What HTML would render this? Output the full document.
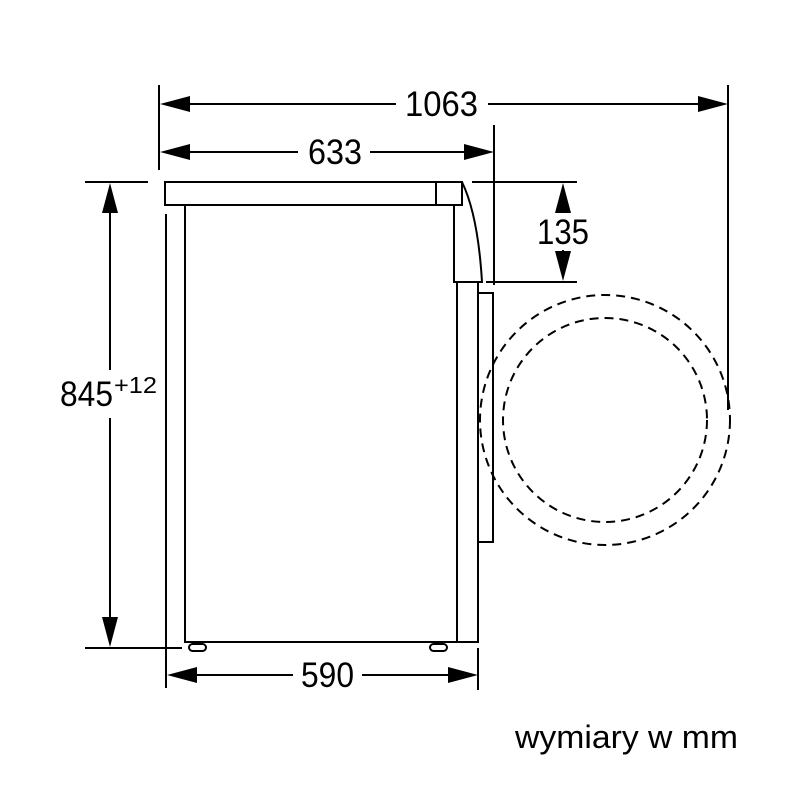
<!DOCTYPE html>
<html><head><style>html,body{margin:0;padding:0;background:#fff}</style></head>
<body>
<svg width="800" height="800" viewBox="0 0 800 800" xmlns="http://www.w3.org/2000/svg" font-family="Liberation Sans, sans-serif">
<g stroke="#000" stroke-width="2" fill="none">
  <line x1="159" y1="85" x2="159" y2="170"/>
  <line x1="728" y1="85" x2="728" y2="410"/>
  <line x1="494" y1="125" x2="494" y2="285"/>
  <line x1="166" y1="214" x2="166" y2="688"/>
  <line x1="478" y1="648" x2="478" y2="690"/>
  <line x1="85" y1="182" x2="148" y2="182"/>
  <line x1="85" y1="648" x2="182" y2="648"/>
  <line x1="472" y1="182" x2="577" y2="182"/>
  <line x1="486" y1="282" x2="577" y2="282"/>
  <line x1="175" y1="104" x2="396" y2="104"/>
  <line x1="488" y1="104" x2="712" y2="104"/>
  <line x1="175" y1="152" x2="298" y2="152"/>
  <line x1="370" y1="152" x2="478" y2="152"/>
  <line x1="182" y1="675" x2="293" y2="675"/>
  <line x1="362" y1="675" x2="464" y2="675"/>
  <line x1="110" y1="198" x2="110" y2="370"/>
  <line x1="110" y1="418" x2="110" y2="632"/>
  <line x1="563" y1="198" x2="563" y2="212"/>
  <line x1="563" y1="250" x2="563" y2="266"/>
  <rect x="165" y="182" width="297" height="23"/>
  <line x1="436" y1="182" x2="436" y2="205"/>
  <path d="M185 205 V642 H478 V282"/>
  <path d="M436 205 H454 V282 H482 Q478 215 462 182"/>
  <line x1="457" y1="282" x2="457" y2="642"/>
  <path d="M479 293 H493 V542 H479"/>
  <rect x="189" y="644" width="17" height="7" rx="3.5"/>
  <rect x="430" y="644" width="17" height="7" rx="3.5"/>
  <circle cx="605" cy="420" r="125" stroke-dasharray="9 6"/>
  <circle cx="605" cy="420" r="102" stroke-dasharray="9 6"/>
</g>
<g fill="#000">
  <polygon points="160,104 190,96 190,112"/>
  <polygon points="728,104 698,96 698,112"/>
  <polygon points="160,152 190,144 190,160"/>
  <polygon points="494,152 464,144 464,160"/>
  <polygon points="167,675 197,667 197,683"/>
  <polygon points="478,675 448,667 448,683"/>
  <polygon points="110,183 102,213 118,213"/>
  <polygon points="110,647 102,617 118,617"/>
  <polygon points="563,183 555,213 571,213"/>
  <polygon points="563,281 555,251 571,251"/>
</g>
<g fill="#000" font-size="35">
  <text x="405" y="116" textLength="73" lengthAdjust="spacingAndGlyphs">1063</text>
  <text x="308" y="164" textLength="54" lengthAdjust="spacingAndGlyphs">633</text>
  <text x="301" y="687" textLength="53" lengthAdjust="spacingAndGlyphs">590</text>
  <text x="537" y="244" textLength="52" lengthAdjust="spacingAndGlyphs">135</text>
  <text x="60" y="406" textLength="53" lengthAdjust="spacingAndGlyphs">845</text>
  <text x="114" y="393" font-size="23" textLength="43" lengthAdjust="spacingAndGlyphs">+12</text>
  <text x="515" y="748" font-size="32" textLength="223" lengthAdjust="spacingAndGlyphs">wymiary w mm</text>
</g>
</svg>
</body></html>
